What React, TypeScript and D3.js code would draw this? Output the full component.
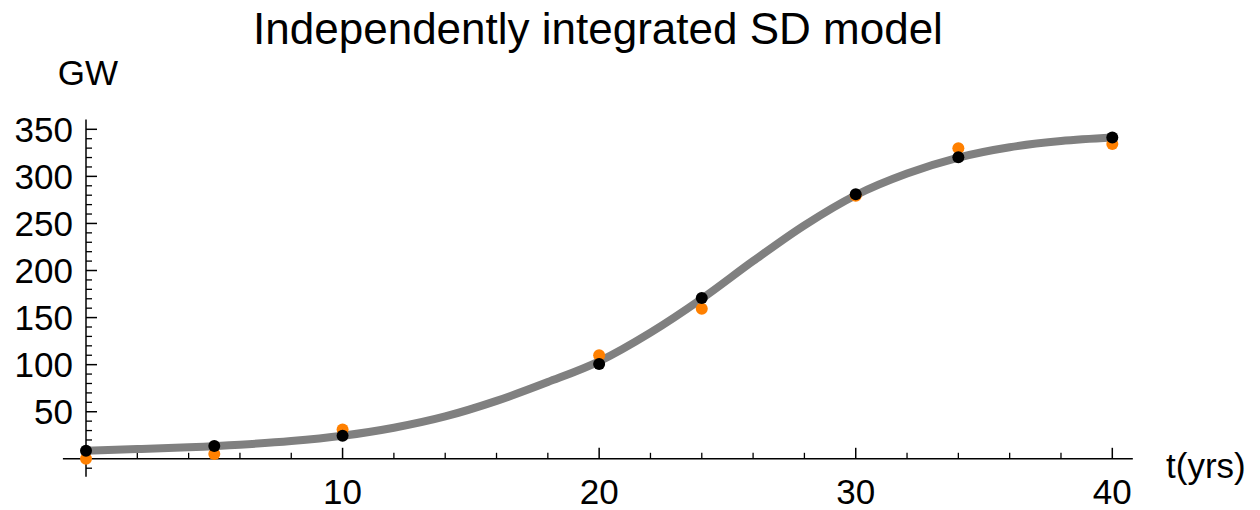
import React from "react";
import * as d3 from "d3";

const years = [0, 5, 10, 20, 24, 30, 34, 40];
const observedGW = [0, 5, 31, 110, 159.5, 279.5, 330, 334.5];
const modelGW = [8.6, 13.6, 24.5, 100.7, 170.9, 281, 320.4, 341.2];

const curveT = [0, 2, 4, 6, 8, 10, 12, 14, 16, 18, 20, 22, 24, 26, 28, 30, 32, 34, 36, 38, 40];
const curveGW = [8.6, 10.3, 12.3, 15, 18.8, 24.5, 33, 45, 61.5, 81.5, 103.5, 134, 170, 210, 248, 280, 303, 320, 331, 337.5, 341.2];

const xMajor = [10, 20, 30, 40];
const xLabels = ["10", "20", "30", "40"];
const yMajor = [50, 100, 150, 200, 250, 300, 350];
const yLabels = ["50", "100", "150", "200", "250", "300", "350"];

const W = 1260;
const H = 510;
const FONT = "'Liberation Sans', Arial, Helvetica, sans-serif";

export default function App() {
  const x = d3.scaleLinear().domain([0, 40]).range([86, 1112.3]);
  const y = d3.scaleLinear().domain([0, 350]).range([458.8, 129.3]);

  const xMinor = d3.range(0, 41, 2).filter((v) => !xMajor.includes(v));
  const yMinor = d3.range(-10, 351, 10).filter((v) => !yMajor.includes(v) && v !== 0);

  const line = d3
    .line<number>()
    .x((_, i) => x(curveT[i]))
    .y((d) => y(d))
    .curve(d3.curveMonotoneX);

  const x0 = x(0);
  const y0 = y(0);

  return (
    <svg
      width={W}
      height={H}
      style={{ position: "absolute", left: 0, top: 0, background: "#fff" }}
      fontFamily={FONT}
    >
      <text x={598} y={44} fontSize={44} textAnchor="middle" fill="#000">
        Independently integrated SD model
      </text>

      {/* axes */}
      <line x1={x(-0.9)} x2={x(40.8)} y1={y0} y2={y0} stroke="#000" strokeWidth={1.5} />
      <line x1={x0} x2={x0} y1={y(-19)} y2={y(360.5)} stroke="#000" strokeWidth={1.5} />

      {xMajor.map((v) => (
        <line key={"xm" + v} x1={x(v)} x2={x(v)} y1={y0} y2={y0 - 11} stroke="#000" strokeWidth={1.5} />
      ))}
      {xMinor.map((v) => (
        <line key={"xn" + v} x1={x(v)} x2={x(v)} y1={y0} y2={y0 - 6} stroke="#000" strokeWidth={1.3} />
      ))}
      {yMajor.map((v) => (
        <line key={"ym" + v} x1={x0} x2={x0 + 11} y1={y(v)} y2={y(v)} stroke="#000" strokeWidth={1.5} />
      ))}
      {yMinor.map((v) => (
        <line key={"yn" + v} x1={x0} x2={x0 + 6} y1={y(v)} y2={y(v)} stroke="#000" strokeWidth={1.3} />
      ))}

      {xMajor.map((v, i) => (
        <text key={"xl" + v} x={x(v)} y={504} fontSize={35} textAnchor="middle" fill="#000">
          {xLabels[i]}
        </text>
      ))}
      {yMajor.map((v, i) => (
        <text key={"yl" + v} x={73} y={y(v) + 12.5} fontSize={35} textAnchor="end" fill="#000">
          {yLabels[i]}
        </text>
      ))}

      <text x={x0 + 2} y={85} fontSize={35} textAnchor="middle" fill="#000">
        GW
      </text>
      <text x={1166} y={478} fontSize={35} textAnchor="start" fill="#000">
        t(yrs)
      </text>

      <path d={line(curveGW) || ""} fill="none" stroke="#808080" strokeWidth={8} />

      {years.map((t, i) => (
        <circle key={"o" + t} cx={x(t)} cy={y(observedGW[i])} r={6} fill="#ff8000" />
      ))}
      {years.map((t, i) => (
        <circle key={"b" + t} cx={x(t)} cy={y(modelGW[i])} r={6} fill="#000" />
      ))}
    </svg>
  );
}
